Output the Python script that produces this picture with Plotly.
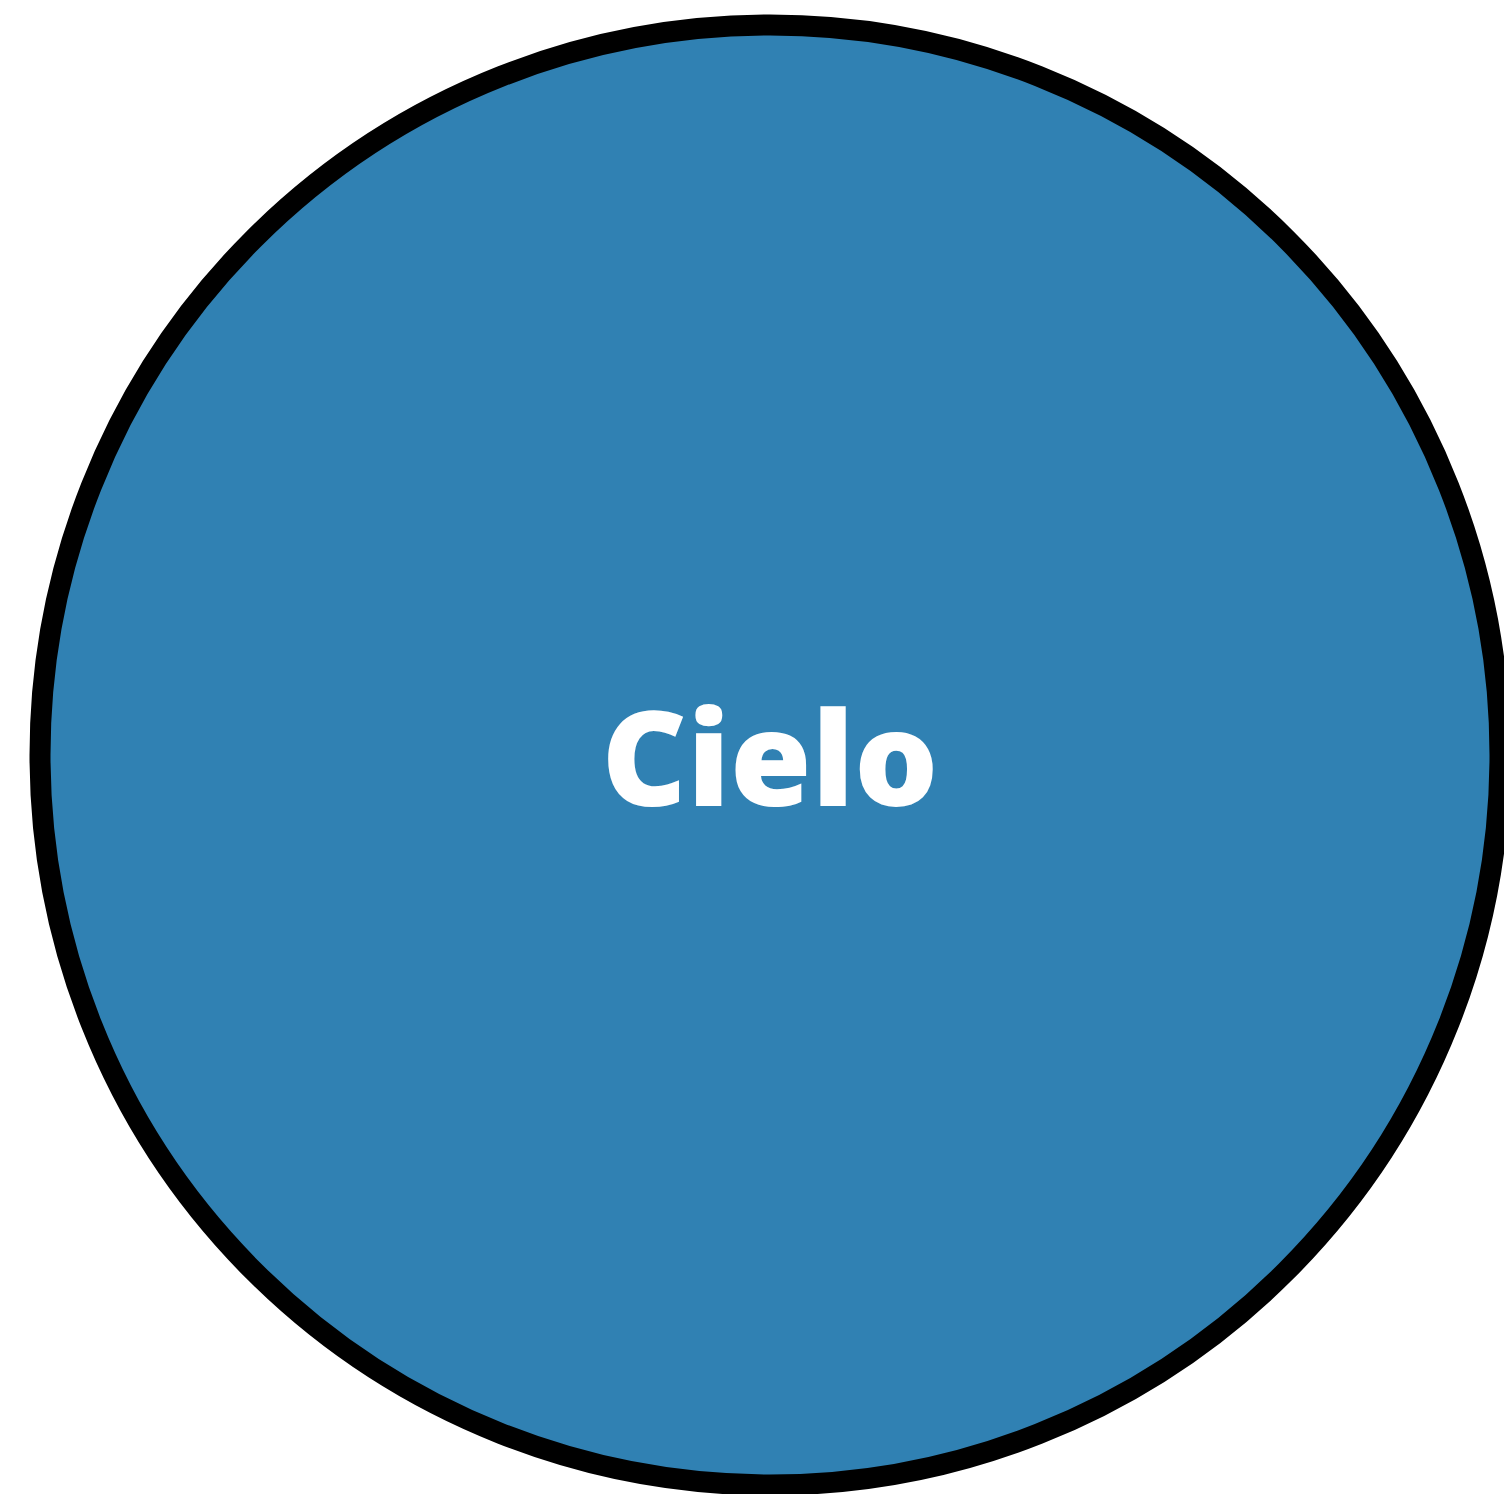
import plotly.graph_objects as go

labels = ["Cielo"]
values = [100]
colors = ["#3081B3"]

fig = go.Figure(go.Pie(
    labels=labels,
    values=values,
    marker=dict(colors=colors, line=dict(color="#000000", width=21)),
    textinfo="label",
    textposition="inside",
    insidetextfont=dict(family="Open Sans", size=132, color="#ffffff", weight=800),
    sort=False,
    showlegend=False,
    hoverinfo="skip",
    domain=dict(x=[0.02128, 0.99202], y=[0.00606, 0.98856]),
))
fig.update_layout(
    width=1504, height=1486, autosize=False,
    margin=dict(l=0, r=0, t=0, b=0),
    paper_bgcolor="white",
    showlegend=False,
)
fig.write_html("out.html")
